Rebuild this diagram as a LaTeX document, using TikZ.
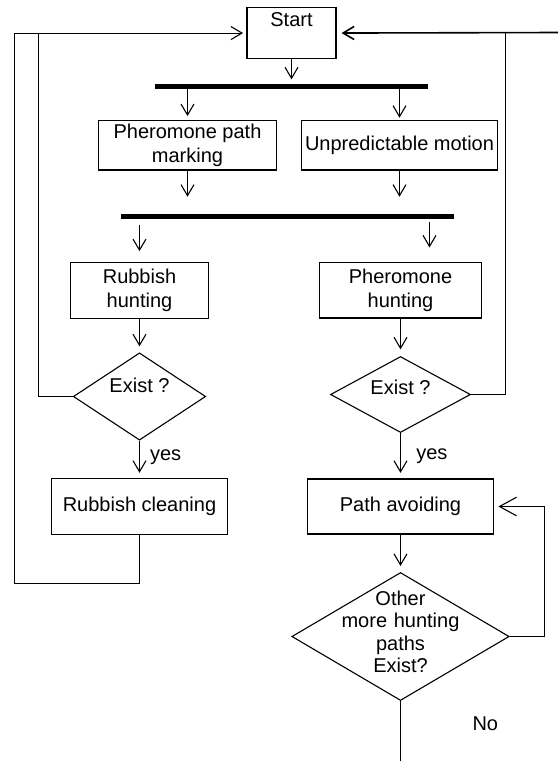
\documentclass[tikz,border=0pt]{standalone}
\usepackage{fontspec}
\setmainfont{Liberation Sans}
\usepackage{tikz}
\usetikzlibrary{shapes.geometric}
\usetikzlibrary{arrows.meta,positioning}
\tikzset{
	box/.style={draw, rectangle, align=center, inner sep=0pt},
	decision/.style={draw, diamond, align=center, inner sep=0pt},
	forkbar/.style={fill=black, rectangle, inner sep=0pt, minimum height=2.2pt},
	flow/.style={-{Straight Barb[length=5.5pt,width=6.5pt]}, shorten >=2.5pt},
	backflow/.style={-{Straight Barb[length=8.5pt,width=9.3pt]}, shorten >=2.35pt}
}

\begin{document}
\begin{tikzpicture}[x=0.5pt, y=-0.5pt, line width=0.55pt]
  \useasboundingbox (0,0) rectangle (558,761);

  \node[box, anchor=north, minimum width=44.5pt, text height=9.7pt, text depth=15.8pt] (start) at (291.5,7) {Start};
  \node[forkbar, minimum width=136.5pt] (bar1) at (291.5,86.3) {};
  \node[box, minimum width=89.2pt, minimum height=24.65pt] (mark) at (187.5,145.3) {Pheromone path\\marking};
  \node[box, minimum width=98pt, minimum height=24.65pt] (motion) at (399.5,145.3) {Unpredictable motion};
  \node[forkbar, minimum width=166.65pt] (bar2) at (287.35,216.5) {};
  \coordinate (fork2r) at (429.5,216.5);
  \node[box, minimum width=68.8pt, minimum height=27.8pt] (rhunt) at (139.5,290.5) {Rubbish\\hunting};
  \node[box, minimum width=80.85pt, minimum height=27.8pt] (phunt) at (400.5,290.2) {Pheromone\\hunting};
  \node[decision, aspect=1.517, minimum width=66.2pt, minimum height=43.65pt, text height=7.2pt, text depth=10.8pt] (exist1) at (139.5,396.5) {Exist ?};
  \node[decision, aspect=1.842, minimum width=70pt, minimum height=38pt, text height=7.2pt, text depth=7.2pt] (exist2) at (400.5,394.5) {Exist ?};
  \node[box, minimum width=88.3pt, minimum height=28pt] (clean) at (139.5,506.3) {Rubbish cleaning};
  \node[box, minimum width=92.65pt, minimum height=27.5pt] (avoid) at (400.5,506.5) {Path avoiding};
  \node[decision, aspect=1.698, minimum width=108.65pt, minimum height=64pt, text width=59pt, inner xsep=-1.9pt, text height=0pt, text depth=31.5pt, font=\fontsize{10}{11.3}\selectfont] (more) at (400.5,636.5) {Other\\more~hunting\\paths\\Exist?};

  \coordinate (loopA) at (14.5,583.5);
  \coordinate (loopB) at (38.5,32.5);
  \coordinate (loopC) at (505.5,32.5);
  \coordinate (rightEnd) at (558,32.5);
  \coordinate (loopD) at (544.5,506.5);
  \coordinate (noEnd) at (400.5,761);

  \path (start) edge[flow, shorten >=2.1pt] (start |- bar1.north);
  \path (bar1 -| mark) edge[flow, shorten >=2pt] (mark);
  \path (bar1 -| motion) edge[flow, shorten >=1.2pt] (motion);
  \path (mark) edge[flow, shorten >=9.9pt] (mark |- bar2);
  \path (motion) edge[flow, shorten >=9.9pt] (motion |- bar2);
  \path (bar2 -| rhunt) edge[flow, shorten <=4.25pt, shorten >=5.5pt] (rhunt);
  \path (fork2r) edge[flow, shorten <=2.6pt, shorten >=7.2pt] (fork2r |- phunt.north);
  \path (rhunt) edge[flow, shorten >=3pt] (exist1);
  \path (phunt) edge[flow, shorten >=3.3pt] (exist2);
  \path (exist1) edge[flow] node[pos=0.45, right=1.7pt] {yes} (clean);
  \path (exist2) edge[flow, shorten >=2.8pt] node[pos=0.5, right=4.3pt] {yes} (avoid);
  \path (avoid) edge[flow, shorten >=3pt] (more);
  \path (more.south) edge node[pos=0.37, right=32.4pt] {No} (noEnd);

  \draw[flow, shorten >=1.7pt] (clean.south) |- (loopA) |- (start.west);
  \draw (exist1.west) -| (loopB);
  \draw (exist2.east) -| (loopC);
  \draw[flow, line width=0.8pt] (rightEnd) -- (start.east);
  \draw[backflow] (more.east) -| (loopD) -- (avoid.east);
\end{tikzpicture}
\end{document}
